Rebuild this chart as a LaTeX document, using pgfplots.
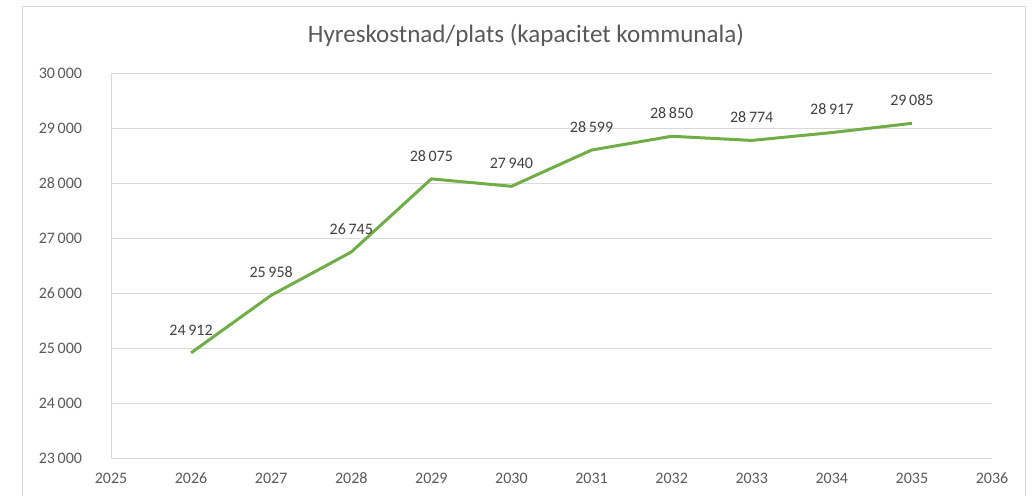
\documentclass[border=0pt]{standalone}
\usepackage{fontspec}
\setmainfont{Carlito}
\usepackage{pgfplots}
\pgfplotsset{compat=1.18}
\definecolor{excelgreen}{HTML}{70AD47}
\definecolor{labelgray}{HTML}{595959}
\definecolor{datagray}{HTML}{404040}
\definecolor{gridgray}{HTML}{D9D9D9}
\begin{document}
\begin{tikzpicture}[x=0.75pt,y=0.75pt]
  % picture in pixel units of the reference (origin bottom left)
  \useasboundingbox (0,0) rectangle (1035,496);
  \draw[gridgray, line width=0.75pt] (22,0) -- (22,489) -- (1025,489) -- (1025,0);
  \node[anchor=base, text=labelgray, font=\fontsize{18.8}{22}\selectfont, inner sep=0pt]
    at (526,453) {Hyreskostnad/plats (kapacitet kommunala)};
  \begin{axis}[
      at={(83.25pt,28.5pt)}, anchor=south west,
      scale only axis,
      width=660.75pt, height=288.75pt,
      xmin=2025, xmax=2036,
      ymin=23000, ymax=30000,
      enlargelimits=false,
      scaled ticks=false,
      xtick={2025,2026,...,2036},
      ytick={23000,24000,...,30000},
      ymajorgrids=true,
      grid style={gridgray, line width=0.75pt},
      axis x line*=bottom,
      axis y line*=left,
      axis line style={gridgray, line width=0.75pt, -},
      major tick length=0pt,
      tick label style={text=labelgray, font=\fontsize{12}{14}\selectfont, inner sep=0pt},
      xticklabel style={anchor=north, yshift=-11pt, /pgf/number format/1000 sep={}},
      yticklabel style={anchor=east, xshift=-21.5pt},
      /pgf/number format/assume math mode=true,
      /pgf/number format/1000 sep={\,},
      clip=false,
    ]
    \addplot[excelgreen, line width=2.25pt, line join=round, mark=none,
      nodes near coords,
      every node near coord/.append style={text=datagray,
        font=\fontsize{12}{14}\selectfont, anchor=south, inner sep=0pt, yshift=12pt}]
    coordinates {
      (2026, 24912)
      (2027, 25958)
      (2028, 26745)
      (2029, 28075)
      (2030, 27940)
      (2031, 28599)
      (2032, 28850)
      (2033, 28774)
      (2034, 28917)
      (2035, 29085)
    };
  \end{axis}
\end{tikzpicture}
\end{document}
